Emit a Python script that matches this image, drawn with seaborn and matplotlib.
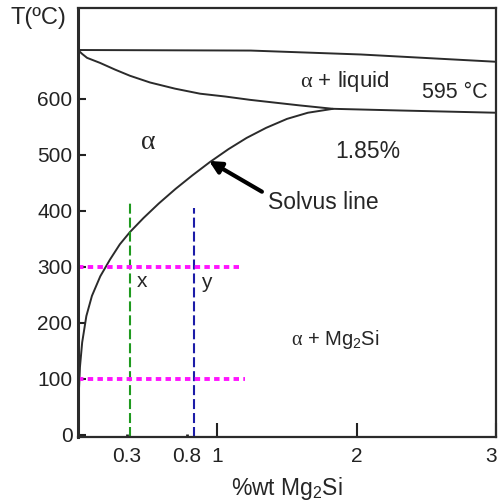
import matplotlib
matplotlib.use("Agg")
import matplotlib.pyplot as plt
import matplotlib.transforms as mtransforms
import seaborn as sns

sns.set_theme(style="white")
plt.rcParams['font.family'] = ['Liberation Sans', 'DejaVu Sans']
plt.rcParams['mathtext.fontset'] = 'custom'
plt.rcParams['mathtext.rm'] = 'Liberation Sans'
plt.rcParams['mathtext.it'] = 'Liberation Serif'

# ---- data ----
liquidus_x = [0.0, 1.24, 2.03, 3.0]
liquidus_T = [687, 686, 679, 666]

solidus_x = [0.0, 0.03, 0.065, 0.158, 0.266, 0.373, 0.517, 0.696, 0.876,
             1.055, 1.235, 1.414, 1.594, 1.83, 2.31, 3.0]
solidus_T = [687, 680, 673, 664, 652, 641, 629, 618, 609,
             604, 598, 593, 588, 582, 579, 575]

solvus_x = [0.0, 0.005, 0.014, 0.03, 0.06, 0.1, 0.16, 0.23, 0.3, 0.373, 0.47,
            0.58, 0.70, 0.82, 0.947, 1.08, 1.21, 1.35, 1.5, 1.65, 1.83]
solvus_T = [20, 70, 121, 165, 212, 248, 283, 313, 340, 362, 387,
            413, 439, 463, 487, 510, 530, 548, 564, 575, 582]

comp_x = [0.37, 0.83]          # alloy compositions (vertical dashed)
comp_top = [420, 405]
comp_colors = ['#1f9a1f', '#1c1ca8']

iso_T = [300, 100]             # isothermal lines (magenta dotted)
iso_end = [1.17, 1.2]

xtick_major = [1, 2, 3]
xtick_major_labels = ['1', '2', '3']
xtick_minor = [0.35, 0.78]
xtick_minor_labels = ['0.3', '0.8']
ytick_vals = [0, 100, 200, 300, 400, 500, 600]

fig = plt.figure(figsize=(4.98, 5.04), dpi=100)
ax = fig.add_axes([78 / 498, 1 - 437 / 504, (496 - 78) / 498, (437 - 8) / 504])

curve_col = '#2b2b2b'
for cx, ct in [(liquidus_x, liquidus_T), (solidus_x, solidus_T), (solvus_x, solvus_T)]:
    sns.lineplot(x=cx, y=ct, ax=ax, color=curve_col, lw=1.4,
                 sort=False, estimator=None)

for cx, ct, cc in zip(comp_x, comp_top, comp_colors):
    sns.lineplot(x=[cx, cx], y=[-4, ct], ax=ax, color=cc, lw=1.5,
                 linestyle=(0, (4.8, 1.9)), sort=False, estimator=None)

for t, xe in zip(iso_T, iso_end):
    sns.lineplot(x=[0.0, xe], y=[t, t], ax=ax, color='#ff14ff', lw=2.8,
                 linestyle=(0, (1.4, 1.1)), sort=False, estimator=None)

# annotations
ax.text(1.917, 630, r'$\alpha$ + liquid', fontsize=16, ha='center', va='center')
ax.text(2.706, 611, '595 °C', fontsize=15.5, ha='center', va='center')
ax.text(0.503, 523, r'$\alpha$', fontsize=20, ha='center', va='center')
ax.text(2.082, 505, '1.85%', fontsize=16.5, ha='center', va='center')
ax.text(1.364, 414, 'Solvus line', fontsize=16.5, ha='left', va='center')
ax.text(0.459, 273, 'x', fontsize=15, ha='center', va='center')
ax.text(0.919, 272, 'y', fontsize=15, ha='center', va='center')
ax.text(1.845, 170, r'$\alpha$ + Mg$_2$Si', fontsize=14.5, ha='center', va='center')
ax.annotate('', xy=(0.94, 489), xytext=(1.32, 434),
            arrowprops=dict(arrowstyle='-|>', lw=3, color='black', mutation_scale=18,
                            shrinkA=0, shrinkB=0))

ax.set_xlim(0, 3.0)
ax.set_ylim(-4, 762)

ax.set_xticks(xtick_major, labels=xtick_major_labels)
ax.set_xticks(xtick_minor, labels=xtick_minor_labels, minor=True)
ax.set_yticks(ytick_vals, labels=[str(v) for v in ytick_vals])
ax.tick_params(axis='x', which='major', direction='in', length=10, width=1.5,
               pad=7, labelsize=15, bottom=True, colors='#222222')
ax.tick_params(axis='x', which='minor', direction='in', length=2, width=2,
               pad=7, labelsize=15, bottom=True, colors='#222222')
ax.tick_params(axis='y', direction='in', length=6, width=1.5, pad=4,
               labelsize=15, left=True, colors='#222222')

# keep the last x tick label inside the canvas
last = ax.get_xticklabels()[-1]
last.set_transform(last.get_transform() +
                   mtransforms.ScaledTranslation(-5 / 100, 0, fig.dpi_scale_trans))

ax.set_xlabel('%wt Mg$_2$Si', fontsize=16.5, labelpad=7)
ax.set_ylabel('')

for side, sp in ax.spines.items():
    sp.set_visible(True)
    sp.set_color('#2b2b2b')
    sp.set_linewidth(1.6)
ax.spines['left'].set_linewidth(2.2)

fig.text(10 / 498, 1 - 18 / 504, 'T(ºC)', fontsize=17, ha='left', va='center')

fig.savefig('out.png', dpi=100)
